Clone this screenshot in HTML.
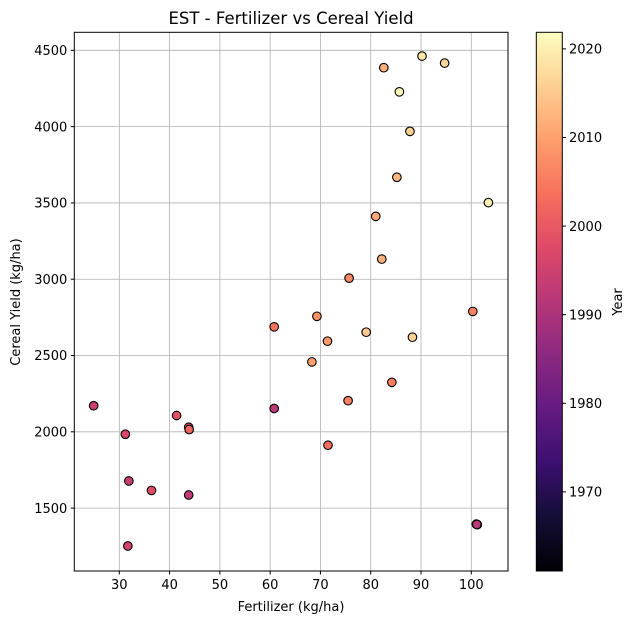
<!DOCTYPE html>
<html><head><meta charset="utf-8"><style>
body{margin:0;background:#fff;}
svg{display:block;font-family:"DejaVu Sans","Liberation Sans",sans-serif;}
</style></head><body>
<svg id="chart" width="637" height="624" viewBox="0 0 637 624" xmlns="http://www.w3.org/2000/svg">
<defs>
<linearGradient id="magma" x1="0" y1="1" x2="0" y2="0">
<stop offset="0" stop-color="#000004"/><stop offset="0.1" stop-color="#140e36"/><stop offset="0.2" stop-color="#3b0f70"/><stop offset="0.3" stop-color="#641a80"/><stop offset="0.4" stop-color="#8c2981"/><stop offset="0.5" stop-color="#b73779"/><stop offset="0.6" stop-color="#de4968"/><stop offset="0.7" stop-color="#f7705c"/><stop offset="0.8" stop-color="#fe9f6d"/><stop offset="0.9" stop-color="#fecf92"/><stop offset="1" stop-color="#fcfdbf"/>
</linearGradient>
</defs>
<g id="grid"></g>
<g id="points"></g>
<rect x="74.3" y="32.3" width="433.7" height="538.7" fill="none" stroke="#000" stroke-width="1"/>
<g id="axes"></g>
<text x="291" y="24" font-size="16.5" text-anchor="middle">EST - Fertilizer vs Cereal Yield</text>
<text x="291" y="611" font-size="13" text-anchor="middle">Fertilizer (kg/ha)</text>
<text x="20" y="302" font-size="13" text-anchor="middle" transform="rotate(-90 20 302)">Cereal Yield (kg/ha)</text>
<rect x="536.3" y="32.3" width="26" height="538.7" fill="url(#magma)" stroke="#000" stroke-width="1"/>
<g id="cbar"></g>
<text x="622" y="302" font-size="13" text-anchor="middle" transform="rotate(-90 622 302)">Year</text>
</svg>
<script>
const fert = [82.6,90.2,94.7,85.7,87.8,85.2,103.4,81.0,82.2,75.7,100.3,69.3,60.8,79.1,88.3,71.4,68.3,84.2,75.5,24.9,60.8,41.4,43.8,43.9,31.2,71.5,31.9,36.4,43.8,101.0,101.2,101.1,31.7];
const yieldV = [4386,4462,4416,4228,3969,3668,3502,3412,3132,3007,2789,2757,2688,2653,2620,2594,2458,2324,2204,2171,2153,2107,2030,2015,1984,1912,1678,1616,1586,1395,1392,1393,1252];
const years = [2012,2019,2017,2021,2016,2013,2020,2011,2012,2007,2006,2008,2004,2015,2016,2009,2010,2005,2006,1995,1992,1999,1997,2002,1997,2003,1994,1998,1993,1990,1991,1992,1996];
const xTicks = [30,40,50,60,70,80,90,100];
const yTicks = [1500,2000,2500,3000,3500,4000,4500];
const cTicks = [1970,1980,1990,2000,2010,2020];
const X0=74.3,X1=508,Y0=571,Y1=32.3;
const xmin=21.05,xmax=107.3,ymin=1088,ymax=4618,cmin=1961.07,cmax=2021.87;
const sx=v=>X0+(v-xmin)/(xmax-xmin)*(X1-X0);
const sy=v=>Y0-(v-ymin)/(ymax-ymin)*(Y0-Y1);
const sc=v=>Y0-(v-cmin)/(cmax-cmin)*(Y0-Y1);
const stops=[[0,0,4],[20,14,54],[59,15,112],[100,26,128],[140,41,129],[183,55,121],[222,73,104],[247,112,92],[254,159,109],[254,207,146],[252,253,191]];
function magma(t){t=Math.max(0,Math.min(1,t))*10;const i=Math.min(9,Math.floor(t)),f=t-i;const a=stops[i],b=stops[i+1];return `rgb(${a.map((v,k)=>Math.round(v+(b[k]-v)*f)).join(',')})`;}
const NS='http://www.w3.org/2000/svg';
function mk(tag,attrs,parent,txt){const e=document.createElementNS(NS,tag);for(const k in attrs)e.setAttribute(k,attrs[k]);if(txt!==undefined)e.textContent=txt;parent.appendChild(e);return e;}
const grid=document.getElementById('grid'),axes=document.getElementById('axes'),pts=document.getElementById('points'),cb=document.getElementById('cbar');
xTicks.forEach(v=>{const x=sx(v);
 const g=mk('line',{x1:x,x2:x,y1:Y1,y2:Y0,stroke:'#b0b0b0','stroke-width':0.8},grid);
 
 
 const t=mk('line',{x1:x,x2:x,y1:Y0,y2:Y0+3.5,stroke:'#000'},axes);
 
 
 const l=mk('text',{x:x,y:Y0+18,'font-size':13,'text-anchor':'middle'},axes,v);
 
 });
yTicks.forEach(v=>{const y=sy(v);
 const g=mk('line',{x1:X0,x2:X1,y1:y,y2:y,stroke:'#b0b0b0','stroke-width':0.8},grid);
 
 
 const t=mk('line',{x1:X0-3.5,x2:X0,y1:y,y2:y,stroke:'#000'},axes);
 
 
 const l=mk('text',{x:X0-7,y:y+4.7,'font-size':13,'text-anchor':'end'},axes,v);
 
 });
cTicks.forEach(v=>{const y=sc(v);
 const t=mk('line',{x1:562.3,x2:566,y1:y,y2:y,stroke:'#000'},cb);
 
 
 const l=mk('text',{x:569,y:y+4.7,'font-size':13},cb,v);
 
 });
fert.forEach((f,i)=>{
 const c=mk('circle',{cx:sx(f),cy:sy(yieldV[i]),r:4.3,fill:magma((years[i]-cmin)/(cmax-cmin)),stroke:'#000','stroke-width':1.1},pts);
 
 });
</script>
</body></html>
